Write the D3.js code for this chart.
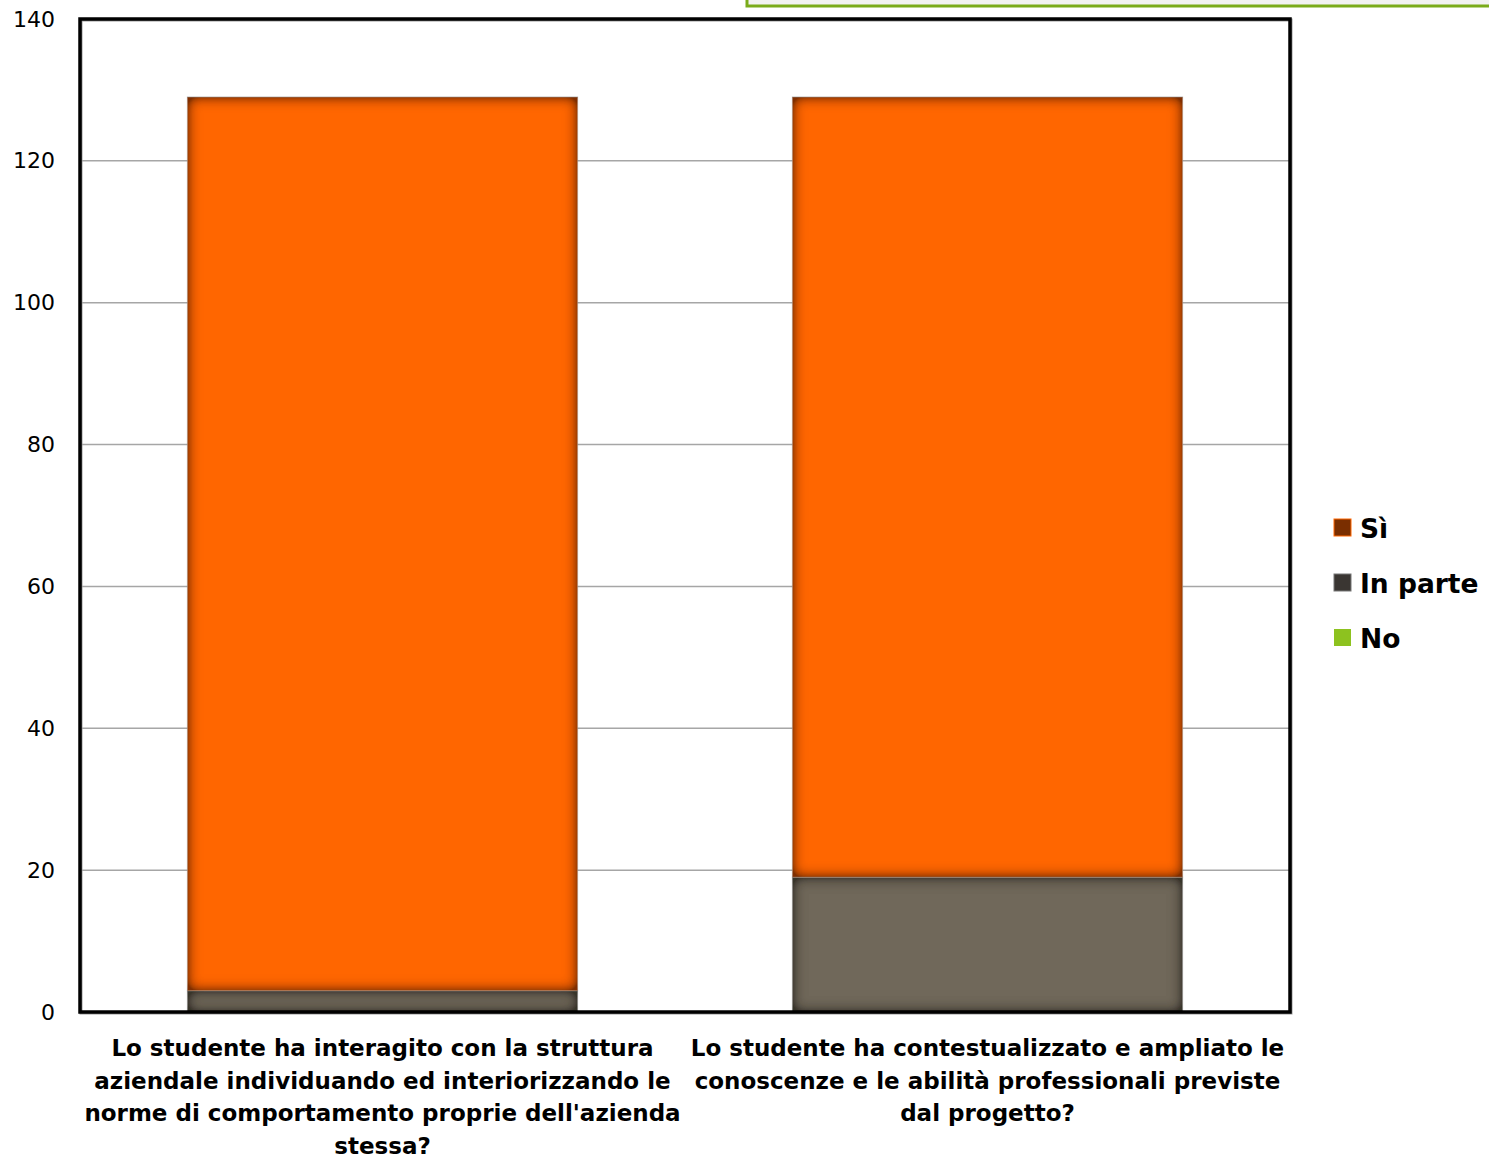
<!DOCTYPE html>
<html><head><meta charset="utf-8">
<script src="https://cdn.jsdelivr.net/npm/d3@7"></script>
<style>body{margin:0;background:#fff}svg{display:block}</style>
</head><body>
<script>
const categories = [
  "Lo studente ha interagito con la struttura aziendale individuando ed interiorizzando le norme di comportamento proprie dell'azienda stessa?",
  "Lo studente ha contestualizzato e ampliato le conoscenze e le abilità professionali previste dal progetto?"
];
const categoryLines = [
  ["Lo studente ha interagito con la struttura","aziendale individuando ed interiorizzando le","norme di comportamento proprie dell'azienda","stessa?"],
  ["Lo studente ha contestualizzato e ampliato le","conoscenze e le abilità professionali previste","dal progetto?"]
];
const seriesNames = ["Sì","In parte","No"];
const siValues = [126, 110];
const inParteValues = [3, 19];
const noValues = [0, 0];
const yTicks = [0,20,40,60,80,100,120,140];

const W = 1489, H = 1160;
const m = {l:80, t:19, r:1290, b:1012};
const FONT = "'DejaVu Sans', Lato, sans-serif";
const svg = d3.select("body").append("svg").attr("width",W).attr("height",H);

const defs = svg.append("defs");
function innerGlow(id, color, op, sd, k){
  const f = defs.append("filter").attr("id",id).attr("x","-5%").attr("y","-5%").attr("width","110%").attr("height","110%");
  f.append("feGaussianBlur").attr("in","SourceAlpha").attr("stdDeviation",sd).attr("result","blur");
  f.append("feComposite").attr("in","SourceAlpha").attr("in2","blur").attr("operator","arithmetic").attr("k2",k).attr("k3",-k).attr("result","edge");
  f.append("feFlood").attr("flood-color",color).attr("flood-opacity",op);
  f.append("feComposite").attr("in2","edge").attr("operator","in").attr("result","shadow");
  const mg = f.append("feMerge");
  mg.append("feMergeNode").attr("in","SourceGraphic");
  mg.append("feMergeNode").attr("in","shadow");
}
innerGlow("glowSi","#2a0c00",0.8,7,1.8);
innerGlow("glowIp","#1a1712",0.8,7,1.8);

// top-right green box
svg.append("rect").attr("x",747).attr("y",-20).attr("width",800).attr("height",26)
  .attr("fill","#f2f2f2").attr("stroke","#7aab1a").attr("stroke-width",3);

const x = d3.scaleBand().domain(categories).range([m.l, m.r]).paddingInner(0.355).paddingOuter(0.1775);
const y = d3.scaleLinear().domain([0,140]).range([m.b, m.t]);

// gridlines
svg.append("g").selectAll("line").data(yTicks.filter(d=>d>0 && d<140)).join("line")
  .attr("x1",m.l).attr("x2",m.r).attr("y1",d=>y(d)).attr("y2",d=>y(d))
  .attr("stroke","#a6a6a6").attr("stroke-width",1.5);

// stacked data
const rows = categories.map((c,i)=>({cat:c, "Sì":siValues[i], "In parte":inParteValues[i], "No":noValues[i]}));
const stack = d3.stack().keys(["In parte","Sì","No"])(rows);
const fills = {"Sì":"#ff6600","In parte":"#6f675a","No":"#8dc21f"};
const filt = {"Sì":"url(#glowSi)","In parte":"url(#glowIp)","No":null};

stack.forEach(s=>{
  svg.append("g").selectAll("rect").data(s.filter(d=>d[1]-d[0]>0)).join("rect")
    .attr("x",d=>x(d.data.cat)).attr("width",x.bandwidth())
    .attr("y",d=>y(d[1])).attr("height",d=>y(d[0])-y(d[1]))
    .attr("fill",fills[s.key]).attr("filter",filt[s.key]);
  svg.append("g").selectAll("rect").data(s.filter(d=>d[1]-d[0]>0)).join("rect")
    .attr("x",d=>x(d.data.cat)).attr("width",x.bandwidth())
    .attr("y",d=>y(d[1])).attr("height",d=>y(d[0])-y(d[1]))
    .attr("fill","none").attr("stroke","#8a8a8a").attr("stroke-opacity",0.6).attr("stroke-width",1);
});

// frame with shadow
svg.append("rect").attr("x",m.l+1).attr("y",m.t+1).attr("width",m.r-m.l).attr("height",m.b-m.t)
  .attr("fill","none").attr("stroke","#9a9a9a").attr("stroke-width",3);
svg.append("rect").attr("x",m.l).attr("y",m.t).attr("width",m.r-m.l).attr("height",m.b-m.t)
  .attr("fill","none").attr("stroke","#000").attr("stroke-width",3.5);

// y axis labels
const yAxis = d3.axisLeft(y).tickValues(yTicks).tickSize(0).tickPadding(25).tickFormat(d3.format("d"));
const ya = svg.append("g").attr("transform",`translate(${m.l},0)`).call(yAxis);
ya.select(".domain").remove();
ya.selectAll("text").attr("font-family",FONT).attr("font-size",22).attr("fill","#000");

// x axis labels
const xa = svg.append("g");
categories.forEach((c,i)=>{
  const t = xa.append("text").attr("text-anchor","middle")
    .attr("font-family",FONT).attr("font-weight","bold").attr("font-size",23).attr("fill","#000");
  categoryLines[i].forEach((ln,j)=>{
    t.append("tspan").attr("x",x(c)+x.bandwidth()/2).attr("y",1056+j*32.5).text(ln);
  });
});

// legend
const lg = svg.append("g");
const legColors = ["#7a2e00","#3a3632","#8dc21f"];
const legStroke = ["#ff6600","#777","none"];
seriesNames.forEach((n,i)=>{
  const yy = 528 + i*55;
  lg.append("rect").attr("x",1334).attr("y",yy-9).attr("width",17).attr("height",17)
    .attr("fill",legColors[i]).attr("stroke",legStroke[i]).attr("stroke-width",1);
  lg.append("text").attr("x",1360).attr("y",yy+10).attr("font-family",FONT)
    .attr("font-weight","bold").attr("font-size",26.5).attr("fill","#000").text(n);
});
</script>
</body></html>
